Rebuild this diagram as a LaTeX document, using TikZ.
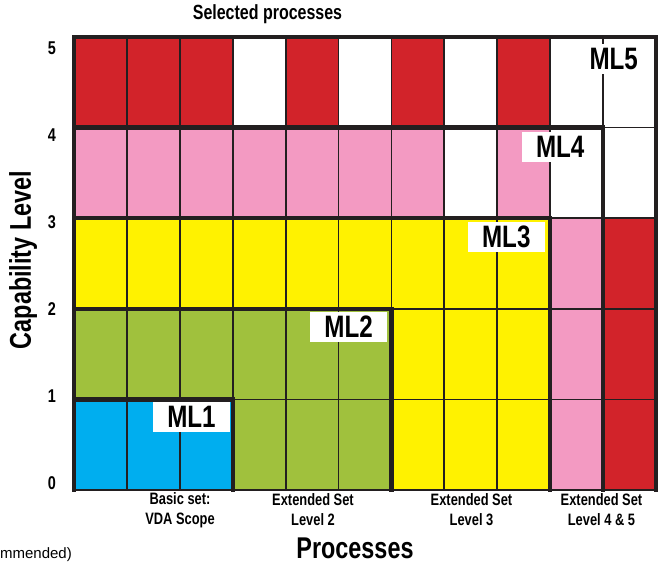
\documentclass[tikz,border=0pt]{standalone}
\usepackage{fontspec}
\setsansfont{Liberation Sans}[FakeStretch=0.78]
\newfontfamily\plainsans{Liberation Sans}
\usetikzlibrary{positioning}
\definecolor{mlred}{HTML}{D2232A}
\definecolor{mlpink}{HTML}{F39AC2}
\definecolor{mlyellow}{HTML}{FFF200}
\definecolor{mlgreen}{HTML}{A0C13D}
\definecolor{mlblue}{HTML}{00AEEF}
\definecolor{gridline}{HTML}{231F20}

\begin{document}
\begin{tikzpicture}[
			x=1pt,y=1pt,
			cell/.style={draw=gridline,line width=1.8pt},
			bound/.style={draw=gridline,line width=4.2pt,line cap=rect},
			mltag/.style={fill=white,inner sep=0pt,minimum width=77pt,minimum height=30pt,font=\sffamily\bfseries\fontsize{31}{31}\selectfont},
			lvl/.style={font=\sffamily\bfseries\fontsize{18.5}{18.5}\selectfont},
			setlab/.style={align=center,font=\sffamily\bfseries\fontsize{16.5}{20}\selectfont},
			axis/.style={inner sep=1pt,font=\sffamily\bfseries\fontsize{30}{30}\selectfont}
			]
			\useasboundingbox[fill=white] (0,0) rectangle (658,563);
			\begin{scope}[shift={(74,73)},x=52.91pt,y=90.6pt]
				% cells, row by row from level 0 upwards
				\foreach \r/\cols in {
					0/{mlblue,mlblue,mlblue,mlgreen,mlgreen,mlgreen,mlyellow,mlyellow,mlyellow,mlpink,mlred},
					1/{mlgreen,mlgreen,mlgreen,mlgreen,mlgreen,mlgreen,mlyellow,mlyellow,mlyellow,mlpink,mlred},
					2/{mlyellow,mlyellow,mlyellow,mlyellow,mlyellow,mlyellow,mlyellow,mlyellow,mlyellow,mlpink,mlred},
					3/{mlpink,mlpink,mlpink,mlpink,mlpink,mlpink,mlpink,white,mlpink,white,white},
					4/{mlred,mlred,mlred,white,mlred,white,mlred,white,mlred,white,white}}
					\foreach \fc [count=\c from 0] in \cols
						\filldraw[cell,fill=\fc] (\c,\r) rectangle ++(1,1);
				% maturity level borders
				\draw[bound] (0,1) -| (3,0);
				\draw[bound] (0,2) -| (6,0);
				\draw[bound] (0,3) -| (9,0);
				\draw[bound] (0,4) -| (10,0);
				\draw[bound] (0,0) |- (11,5) -- (11,0);
				\node[mltag] (ml1) at (2.22,0.81) {ML1};
				\node[mltag] (ml2) at (5.19,1.80) {ML2};
				\node[mltag] (ml3) at (8.17,2.79) {ML3};
				\node[mltag] (ml4) at (9.19,3.79) {ML4};
				\node[mltag] (ml5) at (10.2,4.76) {ML5};
			\end{scope}
			\foreach \k in {0,...,5}
				\node[lvl] (l\k) at (52,79.5+87*\k) {\k};
			\node[setlab] (s1) at (180,53) {Basic set:\\VDA Scope};
			\node[setlab] (s2) at (313,53) {Extended Set\\Level 2};
			\node[setlab] (s3) at (471.5,53) {Extended Set\\Level 3};
			\node[setlab] (s4) at (601.5,53) {Extended Set\\Level 4 \& 5};
			\node[font=\sffamily\bfseries\fontsize{20.5}{20.5}\selectfont] (sel) at (267.5,549) {Selected processes};
			\node[axis,anchor=base] (proc) at (355,5) {Processes};
			\node[axis,rotate=90] (cap) at (23,303) {Capability Level};
			\node[anchor=base east,inner sep=0pt,font=\plainsans\fontsize{15}{15}\selectfont] (rec) at (72,5) {mmended)};
		\end{tikzpicture}
\end{document}
